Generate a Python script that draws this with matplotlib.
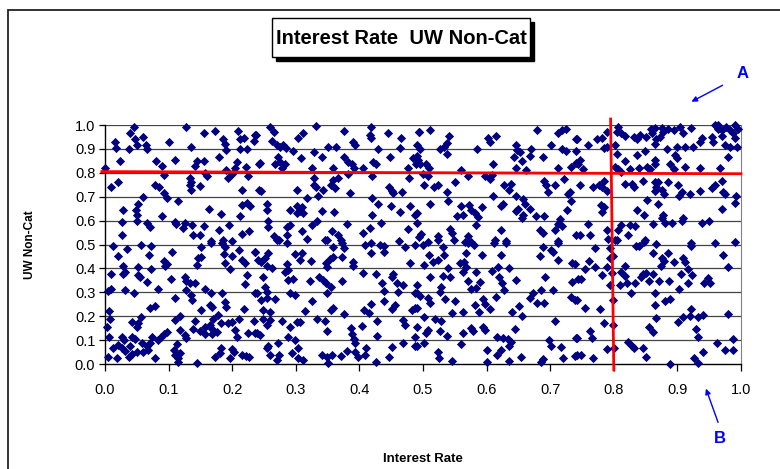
import matplotlib
matplotlib.use('Agg')
import matplotlib.pyplot as plt
from matplotlib.patches import Rectangle, FancyArrowPatch

plt.rcParams['font.family'] = ['Liberation Sans', 'DejaVu Sans']

# (interest rate, UW non-cat) pairs, grouped by region
upper_1 = [(0.045, 0.99), (0.04, 0.965), (0.016, 0.93), (0.018, 0.905), (0.047, 0.94), (0.051, 0.915),
           (0.038, 0.90), (0.06, 0.95), (0.064, 0.915), (0.066, 0.90), (0.024, 0.85), (0.0, 0.82),
           (0.10, 0.93), (0.128, 0.99), (0.135, 0.91), (0.11, 0.855), (0.08, 0.85), (0.09, 0.83),
           (0.093, 0.79), (0.01, 0.74), (0.02, 0.76), (0.078, 0.75), (0.085, 0.74), (0.092, 0.715),
           (0.098, 0.695), (0.06, 0.70), (0.052, 0.67), (0.049, 0.645), (0.029, 0.645), (0.05, 0.625),
           (0.05, 0.60), (0.026, 0.595), (0.066, 0.59), (0.07, 0.575), (0.026, 0.54), (0.115, 0.68),
           (0.09, 0.62), (0.11, 0.595), (0.112, 0.585), (0.125, 0.59), (0.122, 0.57), (0.137, 0.58),
           (0.139, 0.54), (0.155, 0.577), (0.15, 0.54), (0.163, 0.65), (0.167, 0.515), (0.182, 0.627),
           (0.18, 0.56), (0.195, 0.58), (0.186, 0.52), (0.199, 0.515), (0.216, 0.545), (0.226, 0.555),
           (0.215, 0.665), (0.213, 0.62), (0.224, 0.675), (0.228, 0.66), (0.215, 0.73), (0.134, 0.78),
           (0.136, 0.76), (0.136, 0.73), (0.133, 0.75), (0.149, 0.745), (0.141, 0.83), (0.144, 0.85),
           (0.156, 0.85), (0.161, 0.785), (0.157, 0.80), (0.155, 0.965), (0.173, 0.975), (0.186, 0.94),
           (0.188, 0.92), (0.191, 0.895), (0.18, 0.865), (0.19, 0.81), (0.194, 0.78), (0.199, 0.795),
           (0.209, 0.975), (0.212, 0.94), (0.219, 0.945), (0.213, 0.90), (0.224, 0.90), (0.236, 0.96),
           (0.235, 0.935), (0.207, 0.845), (0.205, 0.82), (0.221, 0.825), (0.225, 0.785), (0.242, 0.835),
           (0.242, 0.73)]

upper_2 = [(0.238, 0.96), (0.26, 0.99), (0.265, 0.97), (0.262, 0.935), (0.27, 0.915), (0.28, 0.915),
           (0.284, 0.905), (0.275, 0.91), (0.296, 0.89), (0.303, 0.945), (0.312, 0.965), (0.331, 0.995),
           (0.308, 0.86), (0.272, 0.865), (0.275, 0.845), (0.267, 0.835), (0.283, 0.835), (0.278, 0.82),
           (0.244, 0.84), (0.329, 0.885), (0.341, 0.865), (0.325, 0.82), (0.351, 0.91), (0.363, 0.91),
           (0.375, 0.975), (0.39, 0.93), (0.393, 0.915), (0.375, 0.865), (0.382, 0.845), (0.388, 0.835),
           (0.392, 0.82), (0.358, 0.82), (0.406, 0.82), (0.418, 0.99), (0.417, 0.96), (0.418, 0.945),
           (0.43, 0.90), (0.445, 0.965), (0.448, 0.865), (0.422, 0.845), (0.426, 0.835), (0.466, 0.945),
           (0.464, 0.905), (0.485, 0.86), (0.489, 0.835), (0.493, 0.97), (0.476, 0.82), (0.42, 0.785),
           (0.478, 0.78), (0.328, 0.78), (0.328, 0.75), (0.332, 0.74), (0.302, 0.73), (0.246, 0.725),
           (0.355, 0.75), (0.359, 0.77), (0.367, 0.778), (0.343, 0.73), (0.335, 0.705), (0.317, 0.695),
           (0.362, 0.735), (0.385, 0.715), (0.382, 0.795), (0.446, 0.74), (0.451, 0.725), (0.467, 0.72),
           (0.453, 0.715), (0.42, 0.695), (0.255, 0.67), (0.254, 0.645), (0.291, 0.645), (0.302, 0.66),
           (0.309, 0.655), (0.302, 0.63), (0.307, 0.64), (0.312, 0.63), (0.341, 0.64), (0.36, 0.635),
           (0.43, 0.67), (0.45, 0.66), (0.464, 0.635), (0.48, 0.66), (0.488, 0.625), (0.42, 0.625),
           (0.257, 0.60), (0.257, 0.575), (0.291, 0.58), (0.286, 0.575), (0.325, 0.58), (0.333, 0.60),
           (0.38, 0.585), (0.434, 0.59), (0.417, 0.568), (0.477, 0.565), (0.265, 0.535), (0.273, 0.52),
           (0.286, 0.54), (0.31, 0.555), (0.317, 0.525), (0.349, 0.52), (0.357, 0.555), (0.366, 0.54),
           (0.371, 0.52), (0.405, 0.55), (0.462, 0.515), (0.493, 0.53)]

upper_3 = [(0.493, 0.97), (0.511, 0.98), (0.541, 0.955), (0.491, 0.915), (0.495, 0.90), (0.526, 0.90),
           (0.533, 0.91), (0.538, 0.925), (0.537, 0.88), (0.49, 0.87), (0.492, 0.855), (0.495, 0.835),
           (0.505, 0.835), (0.51, 0.82), (0.5, 0.795), (0.508, 0.785), (0.502, 0.75), (0.518, 0.74),
           (0.524, 0.75), (0.538, 0.72), (0.551, 0.76), (0.559, 0.81), (0.571, 0.785), (0.585, 0.90),
           (0.602, 0.945), (0.605, 0.93), (0.615, 0.955), (0.61, 0.835), (0.597, 0.785), (0.605, 0.775),
           (0.608, 0.79), (0.627, 0.75), (0.639, 0.755), (0.636, 0.73), (0.61, 0.705), (0.647, 0.915),
           (0.648, 0.895), (0.652, 0.885), (0.643, 0.865), (0.656, 0.85), (0.67, 0.90), (0.668, 0.87),
           (0.662, 0.81), (0.646, 0.82), (0.68, 0.98), (0.688, 0.865), (0.702, 0.915), (0.712, 0.965),
           (0.718, 0.98), (0.725, 0.985), (0.74, 0.94), (0.718, 0.90), (0.725, 0.89), (0.74, 0.89),
           (0.713, 0.82), (0.733, 0.825), (0.741, 0.84), (0.722, 0.775), (0.691, 0.765), (0.693, 0.75),
           (0.707, 0.75), (0.696, 0.72), (0.731, 0.72), (0.728, 0.71), (0.647, 0.705), (0.657, 0.69),
           (0.66, 0.67), (0.668, 0.65), (0.65, 0.65), (0.647, 0.64), (0.622, 0.66), (0.626, 0.67),
           (0.592, 0.655), (0.56, 0.66), (0.573, 0.665), (0.576, 0.645), (0.581, 0.63), (0.587, 0.615),
           (0.563, 0.625), (0.553, 0.62), (0.539, 0.68), (0.511, 0.67), (0.49, 0.63), (0.49, 0.59),
           (0.657, 0.625), (0.655, 0.61), (0.677, 0.62), (0.69, 0.62), (0.733, 0.68), (0.727, 0.645),
           (0.715, 0.605), (0.712, 0.585), (0.718, 0.578), (0.584, 0.58), (0.542, 0.565), (0.546, 0.55),
           (0.497, 0.545), (0.524, 0.535), (0.571, 0.535), (0.622, 0.56), (0.684, 0.56), (0.689, 0.55),
           (0.707, 0.56), (0.741, 0.54), (0.613, 0.52), (0.631, 0.515), (0.566, 0.51), (0.508, 0.51),
           (0.712, 0.515)]

upper_4 = [(0.742, 0.94), (0.759, 0.915), (0.773, 0.94), (0.781, 0.945), (0.789, 0.97), (0.784, 0.905),
           (0.789, 0.91), (0.806, 0.99), (0.805, 0.97), (0.812, 0.965), (0.818, 0.955), (0.802, 0.915),
           (0.832, 0.95), (0.836, 0.94), (0.841, 0.96), (0.85, 0.95), (0.858, 0.985), (0.865, 0.987),
           (0.86, 0.965), (0.875, 0.987), (0.878, 0.97), (0.886, 0.985), (0.894, 0.978), (0.904, 0.99),
           (0.922, 0.987), (0.867, 0.94), (0.865, 0.92), (0.873, 0.95), (0.883, 0.90), (0.899, 0.91),
           (0.909, 0.965), (0.912, 0.91), (0.925, 0.91), (0.936, 0.93), (0.938, 0.945), (0.954, 0.95),
           (0.959, 1.0), (0.964, 1.0), (0.97, 0.98), (0.977, 0.99), (0.983, 0.98), (0.99, 1.0),
           (0.995, 0.985), (0.956, 0.93), (0.97, 0.955), (0.975, 0.915), (0.983, 0.91), (0.99, 0.945),
           (0.993, 0.91), (0.987, 0.965), (0.964, 0.985), (0.747, 0.855), (0.744, 0.835), (0.752, 0.815),
           (0.805, 0.88), (0.818, 0.85), (0.836, 0.875), (0.802, 0.825), (0.807, 0.815), (0.812, 0.805),
           (0.825, 0.815), (0.84, 0.82), (0.852, 0.825), (0.857, 0.815), (0.865, 0.855), (0.864, 0.835),
           (0.849, 0.89), (0.896, 0.875), (0.899, 0.86), (0.894, 0.815), (0.888, 0.835), (0.912, 0.825),
           (0.936, 0.82), (0.967, 0.82), (0.98, 0.865), (0.747, 0.75), (0.768, 0.74), (0.776, 0.75),
           (0.784, 0.765), (0.781, 0.74), (0.789, 0.725), (0.817, 0.755), (0.829, 0.755), (0.831, 0.74),
           (0.846, 0.765), (0.865, 0.763), (0.87, 0.763), (0.867, 0.74), (0.875, 0.73), (0.865, 0.725),
           (0.886, 0.763), (0.879, 0.71), (0.901, 0.75), (0.907, 0.72), (0.903, 0.705), (0.92, 0.71),
           (0.936, 0.725), (0.954, 0.735), (0.959, 0.75), (0.97, 0.765), (0.972, 0.72), (0.975, 0.71),
           (0.992, 0.705), (0.99, 0.675), (0.97, 0.65), (0.852, 0.685), (0.869, 0.67), (0.78, 0.665),
           (0.784, 0.655), (0.781, 0.635), (0.836, 0.645), (0.848, 0.625), (0.878, 0.625), (0.875, 0.61),
           (0.88, 0.59), (0.891, 0.59), (0.907, 0.60), (0.909, 0.61), (0.862, 0.585), (0.76, 0.585),
           (0.789, 0.56), (0.747, 0.54), (0.763, 0.54), (0.791, 0.525), (0.805, 0.518), (0.812, 0.58),
           (0.825, 0.58), (0.833, 0.578), (0.807, 0.56), (0.823, 0.54), (0.849, 0.52), (0.938, 0.59),
           (0.949, 0.60), (0.922, 0.505), (0.99, 0.51)]

lower_1 = [(0.013, 0.495), (0.057, 0.50), (0.073, 0.495), (0.034, 0.48), (0.02, 0.45), (0.105, 0.467),
           (0.092, 0.432), (0.097, 0.418), (0.094, 0.408), (0.069, 0.456), (0.052, 0.405), (0.029, 0.41),
           (0.031, 0.386), (0.029, 0.377), (0.01, 0.375), (0.052, 0.373), (0.055, 0.366), (0.072, 0.396),
           (0.066, 0.345), (0.104, 0.354), (0.01, 0.313), (0.004, 0.306), (0.031, 0.31), (0.046, 0.299),
           (0.084, 0.313), (0.11, 0.275), (0.071, 0.233), (0.079, 0.244), (0.006, 0.22), (0.008, 0.187),
           (0.003, 0.154), (0.042, 0.177), (0.052, 0.17), (0.057, 0.195), (0.05, 0.154), (0.007, 0.115),
           (0.026, 0.112), (0.03, 0.10), (0.042, 0.115), (0.047, 0.104), (0.021, 0.08), (0.013, 0.066),
           (0.026, 0.066), (0.031, 0.056), (0.039, 0.076), (0.058, 0.087), (0.066, 0.076), (0.071, 0.087),
           (0.051, 0.052), (0.037, 0.03), (0.042, 0.042), (0.06, 0.052), (0.068, 0.059), (0.005, 0.03),
           (0.019, 0.024), (0.078, 0.024), (0.074, 0.115), (0.084, 0.10), (0.088, 0.115), (0.093, 0.126),
           (0.097, 0.135), (0.11, 0.184), (0.118, 0.20), (0.125, 0.366), (0.128, 0.347), (0.134, 0.34),
           (0.127, 0.31), (0.136, 0.289), (0.137, 0.268), (0.144, 0.414), (0.147, 0.442), (0.151, 0.446),
           (0.151, 0.491), (0.141, 0.34), (0.157, 0.313), (0.167, 0.299), (0.184, 0.299), (0.151, 0.226),
           (0.141, 0.182), (0.118, 0.142), (0.125, 0.121), (0.128, 0.108), (0.139, 0.145), (0.149, 0.14),
           (0.157, 0.156), (0.165, 0.163), (0.17, 0.19), (0.169, 0.145), (0.157, 0.126), (0.168, 0.126),
           (0.176, 0.135), (0.165, 0.247), (0.169, 0.24), (0.177, 0.205), (0.189, 0.26), (0.191, 0.24),
           (0.183, 0.173), (0.194, 0.173), (0.199, 0.177), (0.205, 0.142), (0.207, 0.115), (0.21, 0.19),
           (0.219, 0.229), (0.22, 0.333), (0.223, 0.373), (0.236, 0.296), (0.235, 0.182), (0.225, 0.131),
           (0.236, 0.131), (0.187, 0.459), (0.188, 0.421), (0.199, 0.452), (0.196, 0.396), (0.184, 0.505),
           (0.188, 0.491), (0.167, 0.508), (0.211, 0.477), (0.215, 0.435), (0.22, 0.424), (0.236, 0.47),
           (0.24, 0.435), (0.203, 0.052), (0.199, 0.062), (0.215, 0.038), (0.221, 0.034), (0.226, 0.031),
           (0.196, 0.024), (0.183, 0.066), (0.181, 0.045), (0.173, 0.03), (0.144, 0.003), (0.108, 0.059),
           (0.11, 0.038), (0.114, 0.024), (0.118, 0.045), (0.113, 0.084), (0.115, 0.01)]

lower_2 = [(0.27, 0.519), (0.286, 0.505), (0.346, 0.519), (0.358, 0.491), (0.372, 0.508), (0.375, 0.484),
           (0.409, 0.498), (0.418, 0.505), (0.432, 0.498), (0.439, 0.494), (0.438, 0.47), (0.419, 0.463),
           (0.472, 0.491), (0.487, 0.498), (0.236, 0.47), (0.257, 0.463), (0.252, 0.442), (0.246, 0.428),
           (0.299, 0.46), (0.309, 0.463), (0.306, 0.435), (0.324, 0.431), (0.347, 0.421), (0.354, 0.438),
           (0.359, 0.446), (0.373, 0.446), (0.349, 0.407), (0.39, 0.428), (0.39, 0.41), (0.254, 0.41),
           (0.262, 0.40), (0.286, 0.419), (0.283, 0.386), (0.288, 0.393), (0.48, 0.421), (0.249, 0.363),
           (0.252, 0.324), (0.254, 0.303), (0.239, 0.299), (0.288, 0.352), (0.295, 0.354), (0.291, 0.299),
           (0.299, 0.289), (0.322, 0.349), (0.336, 0.363), (0.343, 0.352), (0.347, 0.34), (0.355, 0.321),
           (0.349, 0.296), (0.373, 0.349), (0.406, 0.38), (0.426, 0.377), (0.453, 0.377), (0.451, 0.363),
           (0.435, 0.337), (0.438, 0.307), (0.459, 0.34), (0.469, 0.331), (0.46, 0.303), (0.488, 0.296),
           (0.246, 0.268), (0.254, 0.275), (0.267, 0.271), (0.325, 0.264), (0.359, 0.233), (0.355, 0.226),
           (0.315, 0.223), (0.376, 0.209), (0.408, 0.226), (0.415, 0.215), (0.419, 0.25), (0.438, 0.265),
           (0.456, 0.247), (0.452, 0.229), (0.482, 0.226), (0.487, 0.233), (0.249, 0.226), (0.26, 0.219),
           (0.249, 0.19), (0.26, 0.184), (0.254, 0.163), (0.278, 0.181), (0.302, 0.177), (0.307, 0.177),
           (0.291, 0.154), (0.333, 0.19), (0.346, 0.181), (0.349, 0.14), (0.387, 0.15), (0.388, 0.126),
           (0.392, 0.103), (0.393, 0.087), (0.404, 0.159), (0.427, 0.181), (0.427, 0.117), (0.469, 0.184),
           (0.472, 0.163), (0.488, 0.112), (0.239, 0.128), (0.244, 0.121), (0.288, 0.112), (0.299, 0.101),
           (0.257, 0.076), (0.254, 0.066), (0.272, 0.089), (0.304, 0.066), (0.294, 0.045), (0.26, 0.038),
           (0.273, 0.038), (0.27, 0.017), (0.303, 0.024), (0.312, 0.017), (0.341, 0.038), (0.349, 0.031),
           (0.357, 0.038), (0.351, 0.006), (0.371, 0.034), (0.38, 0.056), (0.393, 0.052), (0.398, 0.031),
           (0.409, 0.038), (0.411, 0.066), (0.426, 0.01), (0.446, 0.031), (0.451, 0.07), (0.469, 0.089),
           (0.487, 0.076)]

lower_3 = [(0.50, 0.498), (0.524, 0.519), (0.532, 0.488), (0.549, 0.519), (0.57, 0.505), (0.576, 0.512),
           (0.58, 0.498), (0.612, 0.508), (0.631, 0.508), (0.689, 0.488), (0.702, 0.477), (0.712, 0.505),
           (0.705, 0.47), (0.509, 0.456), (0.533, 0.456), (0.568, 0.466), (0.592, 0.456), (0.622, 0.456),
           (0.684, 0.452), (0.712, 0.435), (0.502, 0.414), (0.516, 0.428), (0.524, 0.435), (0.558, 0.424),
           (0.565, 0.428), (0.567, 0.407), (0.539, 0.40), (0.563, 0.386), (0.584, 0.386), (0.609, 0.391),
           (0.618, 0.407), (0.636, 0.40), (0.734, 0.421), (0.511, 0.363), (0.532, 0.368), (0.542, 0.363),
           (0.571, 0.349), (0.589, 0.345), (0.62, 0.366), (0.624, 0.34), (0.628, 0.31), (0.647, 0.352),
           (0.692, 0.363), (0.734, 0.345), (0.744, 0.354), (0.49, 0.331), (0.529, 0.324), (0.526, 0.303),
           (0.575, 0.313), (0.584, 0.317), (0.686, 0.31), (0.705, 0.31), (0.49, 0.296), (0.495, 0.285),
           (0.508, 0.275), (0.511, 0.254), (0.534, 0.271), (0.55, 0.265), (0.594, 0.271), (0.615, 0.282),
           (0.581, 0.247), (0.597, 0.251), (0.606, 0.229), (0.588, 0.219), (0.563, 0.219), (0.546, 0.212),
           (0.668, 0.275), (0.673, 0.296), (0.68, 0.254), (0.69, 0.254), (0.651, 0.243), (0.64, 0.219),
           (0.656, 0.201), (0.733, 0.279), (0.739, 0.268), (0.49, 0.233), (0.502, 0.195), (0.519, 0.187),
           (0.529, 0.181), (0.49, 0.156), (0.508, 0.142), (0.505, 0.128), (0.526, 0.14), (0.537, 0.117),
           (0.563, 0.128), (0.575, 0.15), (0.579, 0.14), (0.594, 0.153), (0.598, 0.142), (0.644, 0.145),
           (0.707, 0.181), (0.617, 0.112), (0.626, 0.108), (0.634, 0.103), (0.639, 0.094), (0.635, 0.075),
           (0.502, 0.089), (0.49, 0.075), (0.56, 0.084), (0.622, 0.059), (0.617, 0.038), (0.601, 0.059),
           (0.60, 0.01), (0.636, 0.014), (0.654, 0.028), (0.524, 0.052), (0.525, 0.024), (0.546, 0.013),
           (0.685, 0.01), (0.689, 0.02), (0.698, 0.10), (0.701, 0.075), (0.717, 0.07), (0.72, 0.024),
           (0.739, 0.034), (0.741, 0.108)]

lower_4 = [(0.77, 0.484), (0.794, 0.484), (0.802, 0.519), (0.798, 0.452), (0.794, 0.442), (0.835, 0.494),
           (0.839, 0.494), (0.848, 0.512), (0.867, 0.502), (0.921, 0.494), (0.959, 0.505), (0.862, 0.463),
           (0.886, 0.466), (0.876, 0.442), (0.879, 0.433), (0.874, 0.41), (0.895, 0.428), (0.909, 0.442),
           (0.912, 0.428), (0.971, 0.456), (0.979, 0.407), (0.761, 0.433), (0.771, 0.407), (0.754, 0.396),
           (0.739, 0.419), (0.789, 0.407), (0.781, 0.373), (0.797, 0.379), (0.818, 0.41), (0.812, 0.386),
           (0.817, 0.368), (0.82, 0.338), (0.81, 0.331), (0.794, 0.331), (0.834, 0.338), (0.827, 0.296),
           (0.843, 0.366), (0.846, 0.377), (0.85, 0.382), (0.862, 0.377), (0.855, 0.349), (0.871, 0.349),
           (0.887, 0.349), (0.864, 0.299), (0.903, 0.313), (0.906, 0.377), (0.917, 0.396), (0.923, 0.373),
           (0.916, 0.34), (0.942, 0.338), (0.948, 0.359), (0.951, 0.34), (0.749, 0.354), (0.742, 0.268),
           (0.755, 0.233), (0.778, 0.229), (0.799, 0.268), (0.865, 0.247), (0.88, 0.265), (0.888, 0.271),
           (0.922, 0.229), (0.909, 0.196), (0.901, 0.177), (0.92, 0.201), (0.932, 0.195), (0.941, 0.205),
           (0.979, 0.209), (0.866, 0.191), (0.785, 0.173), (0.798, 0.163), (0.855, 0.153), (0.861, 0.135),
           (0.763, 0.14), (0.765, 0.108), (0.93, 0.145), (0.933, 0.115), (0.742, 0.108), (0.823, 0.094),
           (0.828, 0.075), (0.832, 0.066), (0.846, 0.066), (0.85, 0.031), (0.79, 0.062), (0.801, 0.066),
           (0.742, 0.038), (0.749, 0.038), (0.768, 0.024), (0.888, 0.0), (0.926, 0.024), (0.932, 0.006),
           (0.941, 0.052), (0.963, 0.089), (0.975, 0.059), (0.988, 0.059), (0.988, 0.103)]

x_ticks = [0.0, 0.1, 0.2, 0.3, 0.4, 0.5, 0.6, 0.7, 0.8, 0.9, 1.0]
y_ticks = [0.0, 0.1, 0.2, 0.3, 0.4, 0.5, 0.6, 0.7, 0.8, 0.9, 1.0]

all_points = upper_1 + upper_2 + upper_3 + upper_4 + lower_1 + lower_2 + lower_3 + lower_4
interest_rate = [p[0] for p in all_points]
uw_non_cat = [p[1] for p in all_points]

W, H = 780, 469
fig = plt.figure(figsize=(W / 100, H / 100), dpi=100)

# outer chart frame (runs off the right / bottom edge of the crop)
fig.patches.append(Rectangle((8 / W, -0.05), 1.0, 1 - 10 / H + 0.05, transform=fig.transFigure,
                             fill=False, edgecolor='#222222', linewidth=1.3))

ax = fig.add_axes([105 / W, (H - 364) / H, 636 / W, 239 / H])
ax.set_xlim(0, 1)
ax.set_ylim(0, 1)

for y in y_ticks[1:]:
    ax.axhline(y, color='#444444', linewidth=0.9, zorder=1)

ax.scatter(interest_rate, uw_non_cat, marker='D', s=22, color='#000080', linewidths=0,
           zorder=3, clip_on=False)

# red quadrant lines
ax.plot([-0.005, 1.0], [0.805, 0.796], color='#ff0000', linewidth=2, zorder=4, clip_on=False)
ax.plot([0.795, 0.80], [1.025, -0.025], color='#ff0000', linewidth=2, zorder=4, clip_on=False)

ax.set_xticks(x_ticks)
ax.set_yticks(y_ticks)
ax.set_xticklabels([f'{v:.1f}' for v in x_ticks], fontsize=10.5)
ax.set_yticklabels([f'{v:.1f}' for v in y_ticks], fontsize=10.5)
ax.tick_params(axis='x', direction='out', length=5, width=0.9, pad=9)
ax.tick_params(axis='y', direction='out', length=4, width=0.9, pad=3)

for side in ['left', 'bottom']:
    ax.spines[side].set_color('black')
    ax.spines[side].set_linewidth(1.0)
ax.spines['right'].set_color('#808080')
ax.spines['top'].set_visible(False)

ax.set_xlabel('Interest Rate', fontsize=9.5, fontweight='bold', labelpad=40)
ax.set_ylabel('UW Non-Cat', fontsize=8.5, fontweight='bold', labelpad=28)

# title box with drop shadow
fig.patches.append(Rectangle((276 / W, 1 - 61 / H), 258 / W, 39 / H, transform=fig.transFigure,
                             facecolor='black', edgecolor='black'))
fig.patches.append(Rectangle((272 / W, 1 - 57 / H), 258 / W, 39 / H, transform=fig.transFigure,
                             facecolor='white', edgecolor='black', linewidth=1))
fig.text(401 / W, 1 - 38 / H, 'Interest Rate  UW Non-Cat', fontsize=14.5, fontweight='bold',
         ha='center', va='center')

# A / B call-outs
fig.text(743 / W, 1 - 74 / H, 'A', color='#0000ff', fontsize=12, fontweight='bold',
         ha='center', va='center')
fig.text(720 / W, 1 - 438 / H, 'B', color='#0000ff', fontsize=12, fontweight='bold',
         ha='center', va='center')
fig.patches.append(FancyArrowPatch(
    (725 / W, 1 - 84 / H), (689 / W, 1 - 103 / H), transform=fig.transFigure,
    arrowstyle='-|>', mutation_scale=8, color='#0000ff', linewidth=1))
fig.patches.append(FancyArrowPatch(
    (719 / W, 1 - 425 / H), (705 / W, 1 - 386 / H), transform=fig.transFigure,
    arrowstyle='-|>', mutation_scale=8, color='#0000ff', linewidth=1))

fig.savefig('out.png', dpi=100)
